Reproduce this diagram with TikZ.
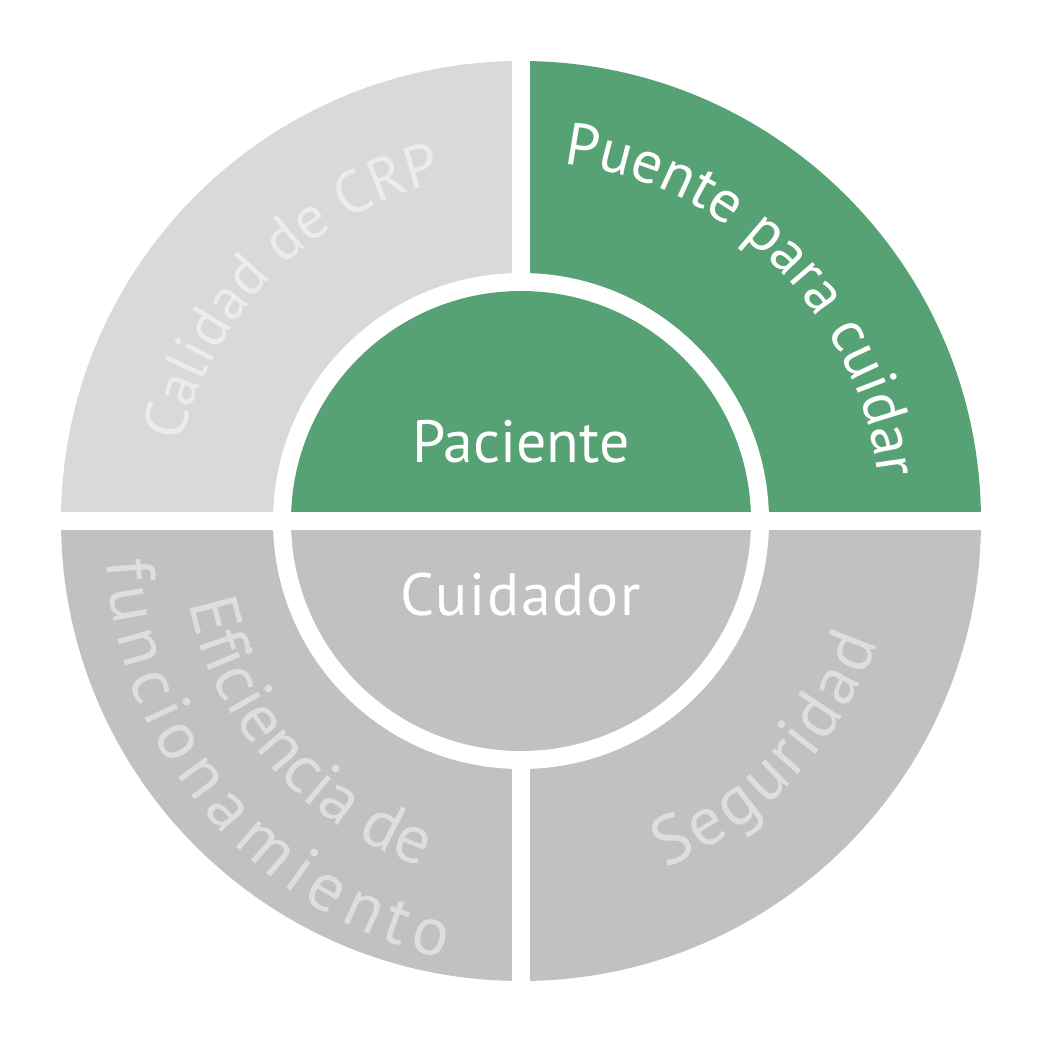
\documentclass[tikz,border=0pt]{standalone}
\usepackage{fontspec}
\setmainfont{PT Sans}
\setsansfont{PT Sans}
\usepackage{xcolor}
\usepackage{tikz}
\usetikzlibrary{decorations.text}

\definecolor{ptgreen}{RGB}{86,162,117}
\definecolor{crpgray}{RGB}{217,217,217}
\definecolor{lowgray}{RGB}{193,193,193}
\definecolor{crptext}{RGB}{236,236,236}
\definecolor{lowtext}{RGB}{222,222,222}
\newcommand\lblfont{\fontsize{17}{20}\selectfont}
\newcommand\lowfont{\fontsize{19.5}{22}\selectfont}

\begin{document}
\begin{tikzpicture}[font=\sffamily\lblfont,
    gap/.style={fill=white},
    arclabel/.style={decorate, decoration={text along path, text align=center, text={#1}}},
    spreadlabel/.style={decorate, decoration={text effects along path, text={#1},
        text effects/.cd, text along path, fit text to path,
        every character/.append style={text=lowtext, font=\sffamily\lowfont}}}]
    \useasboundingbox (-5.21,-5.21) rectangle (5.21,5.21);

    % Outer quarters
    \fill[crpgray] (0,0) -- (90:4.6) arc (90:180:4.6) -- cycle;
    \fill[ptgreen] (0,0) -- (0:4.6) arc (0:90:4.6) -- cycle;
    \fill[lowgray] (0,0) -- (180:4.6) arc (180:360:4.6) -- cycle;

    % White gaps and ring
    \fill[gap] (-0.09,-4.7) rectangle (0.09,4.7);
    \fill[gap] (0,0) circle (2.48);

    % Inner circle
    \fill[ptgreen] (2.3,0) arc (0:180:2.3) -- cycle;
    \fill[lowgray] (-2.3,0) arc (180:360:2.3) -- cycle;
    \fill[gap] (-4.7,-0.09) rectangle (4.7,0.09);

    \node[anchor=base, text=white] (paciente) at (0,0.59) {Paciente};
    \node[anchor=base, text=white] (cuidador) at (0,-0.94) {\addfontfeatures{LetterSpace=3}Cuidador};

    % Curved labels
    \path[arclabel={|\lblfont\color{crptext}|Calidad de CRP}] (180:3.48) arc (180:90:3.48);
    \path[arclabel={|\lblfont\color{white}|Puente para cuidar}] (90:3.6) arc (90:0:3.6);
    \path[spreadlabel={Seguridad}] (-67.4:3.76) arc (-67.4:-18.7:3.76);
    \path[spreadlabel={Eficiencia de}] plot[domain=194:254, samples=60] (\x:{3.42+(\x-194)*0.003});
    \path[spreadlabel={funcionamiento}] plot[domain=185.5:260, samples=60] (\x:{4.16+(\x-185.5)*0.0038});
\end{tikzpicture}
\end{document}
